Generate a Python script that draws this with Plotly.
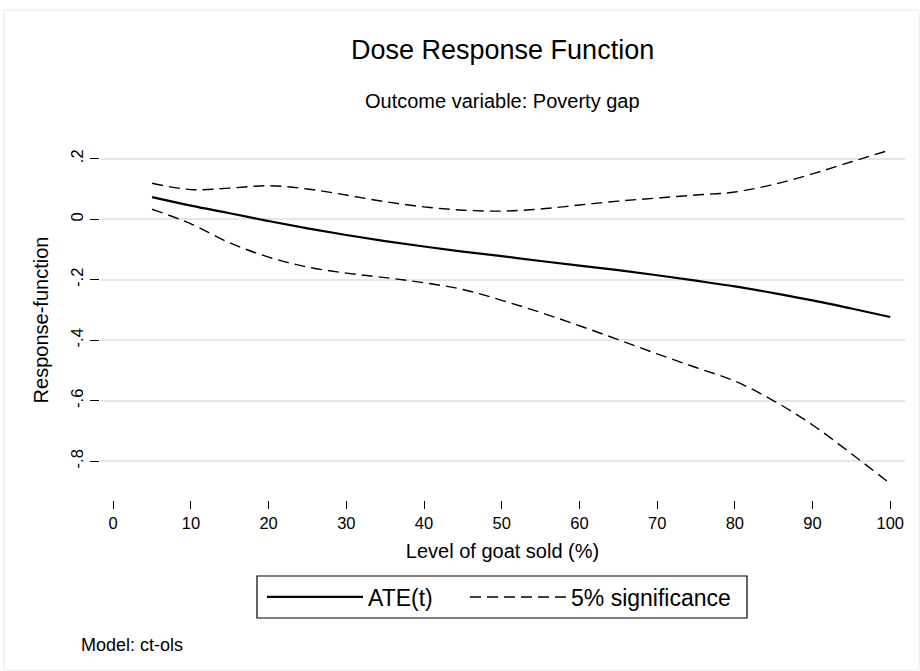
import plotly.graph_objects as go

# Data
dose = [5, 10, 15, 20, 25, 30, 35, 40, 45, 50, 55, 60, 65, 70, 75, 80, 85, 90, 95, 100]
ate = [0.073, 0.045, 0.020, -0.006, -0.030, -0.052, -0.072, -0.090, -0.107, -0.122,
       -0.138, -0.153, -0.168, -0.185, -0.203, -0.222, -0.244, -0.268, -0.295, -0.323]
upper = [0.119, 0.098, 0.103, 0.111, 0.100, 0.080, 0.058, 0.041, 0.030, 0.027,
         0.034, 0.047, 0.060, 0.070, 0.080, 0.090, 0.115, 0.150, 0.190, 0.229]
lower = [0.033, -0.015, -0.078, -0.125, -0.158, -0.178, -0.193, -0.210, -0.232, -0.268,
         -0.308, -0.352, -0.398, -0.445, -0.490, -0.535, -0.600, -0.680, -0.775, -0.874]

x_ticks = [0, 10, 20, 30, 40, 50, 60, 70, 80, 90, 100]
y_ticks = [-0.8, -0.6, -0.4, -0.2, 0, 0.2]
y_ticktext = ["-.8", "-.6", "-.4", "-.2", "0", ".2"]

FONT = "Liberation Sans, Arial, Helvetica, sans-serif"

# plot area in pixels: x 100..905, y 140..500
def py(p):
    return (500 - p) / 360.0

def px(p):
    return (p - 100) / 805.0

fig = go.Figure()
fig.add_trace(go.Scatter(x=dose, y=ate, mode="lines", name="ATE(t)", legend="legend",
                         line=dict(color="black", width=2.2, shape="spline")))
fig.add_trace(go.Scatter(x=dose, y=upper, mode="lines", name="5% significance", legend="legend2",
                         line=dict(color="black", width=1.4, dash="11px,6px", shape="spline")))
fig.add_trace(go.Scatter(x=dose, y=lower, mode="lines", name="5% significance",
                         legend="legend2", showlegend=False,
                         line=dict(color="black", width=1.4, dash="11px,6px", shape="spline")))

leg_common = dict(orientation="h", yanchor="middle", xanchor="left",
                  bgcolor="rgba(0,0,0,0)", borderwidth=0,
                  font=dict(size=23, family=FONT), itemwidth=96)

fig.update_layout(
    width=920, height=671,
    margin=dict(l=100, r=15, t=140, b=171),
    paper_bgcolor="white", plot_bgcolor="white",
    font=dict(family=FONT, color="black"),
    showlegend=True,
    legend=dict(x=px(262), y=py(597), **leg_common),
    legend2=dict(x=px(465), y=py(597), **leg_common),
)

fig.add_annotation(text="Dose Response Function", x=0.5, y=py(50),
                   xref="paper", yref="paper", showarrow=False,
                   font=dict(size=27, family=FONT), xanchor="center", yanchor="middle")
fig.add_annotation(text="Outcome variable: Poverty gap", x=0.5, y=py(101),
                   xref="paper", yref="paper", showarrow=False,
                   font=dict(size=20, family=FONT), xanchor="center", yanchor="middle")
fig.add_annotation(text="Model: ct-ols", x=px(79), y=py(645),
                   xref="paper", yref="paper", showarrow=False,
                   font=dict(size=18, family=FONT), xanchor="left", yanchor="middle")

fig.update_xaxes(range=[-1.7, 101.9], tickvals=x_ticks, ticks="outside", ticklen=8,
                 tickwidth=1, tickcolor="black", showgrid=False, zeroline=False,
                 showline=False, tickfont=dict(size=16.5, family=FONT),
                 title=dict(text="Level of goat sold (%)", font=dict(size=20, family=FONT),
                            standoff=13))
fig.update_yaxes(range=[-0.928, 0.262], tickvals=y_ticks, ticktext=y_ticktext,
                 ticks="outside", ticklen=9, tickwidth=1, tickcolor="black",
                 tickangle=-90, showgrid=True, gridcolor="#e6e6e6", gridwidth=1.5,
                 zeroline=False, showline=False, tickfont=dict(size=16.5, family=FONT),
                 title=dict(text="Response-function", font=dict(size=20, family=FONT),
                            standoff=14))

# legend box
fig.add_shape(type="rect", xref="paper", yref="paper",
              x0=px(257), x1=px(747), y0=py(618), y1=py(576),
              line=dict(color="black", width=1.2), fillcolor="rgba(0,0,0,0)")

# light outer frame of the graph region
fig.add_shape(type="rect", xref="paper", yref="paper",
              x0=px(4), x1=px(919), y0=py(670), y1=py(10),
              line=dict(color="#e8e8e8", width=1), layer="below")

fig.write_html("out.html")
